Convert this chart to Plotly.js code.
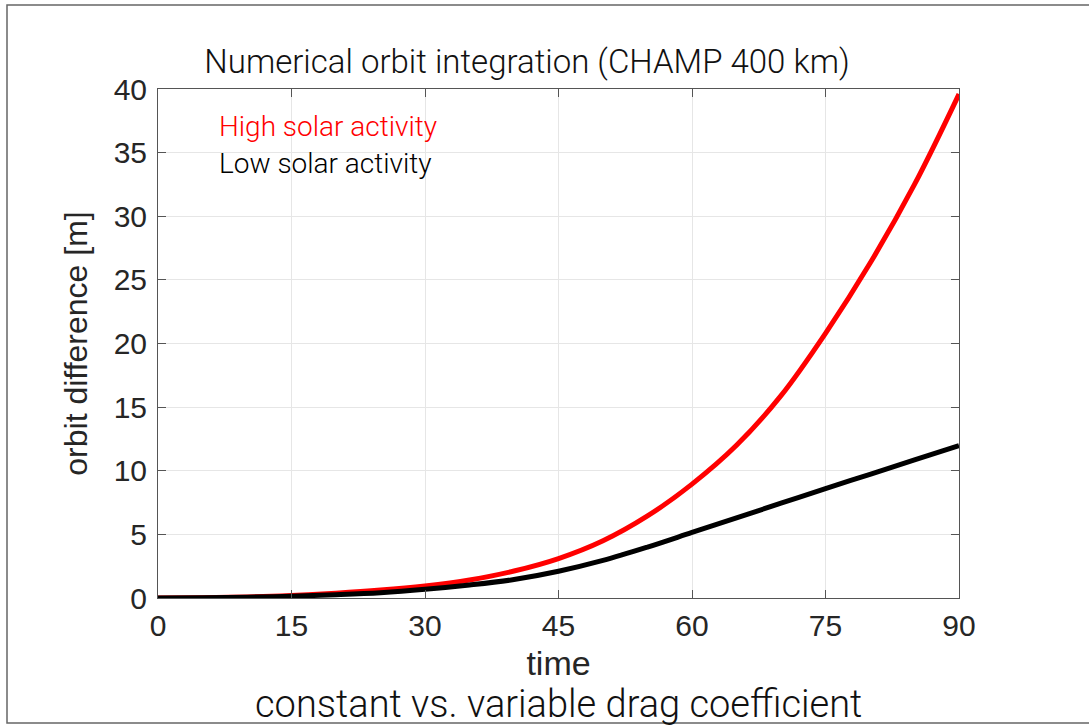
<!DOCTYPE html>
<html>
<head>
<meta charset="utf-8">
<script src="https://cdn.plot.ly/plotly-3.0.1.min.js"></script>
<style>
  html, body { margin: 0; padding: 0; background: #fff; }
  #chart { width: 1089px; height: 725px; }
</style>
</head>
<body>
<div id="chart"></div>
<script>
// Time (x) values
const time = [0, 5, 10, 15, 20, 25, 30, 35, 40, 45, 50, 55, 60, 65, 70, 75, 80, 85, 90];
// High solar activity orbit difference [m]
const highSolar = [0, 0.02, 0.08, 0.2, 0.38, 0.62, 0.95, 1.42, 2.12, 3.1, 4.5, 6.45, 8.95, 12.0, 15.9, 20.8, 26.3, 32.5, 39.6];
// Low solar activity orbit difference [m]
const lowSolar = [0, 0.02, 0.06, 0.14, 0.26, 0.42, 0.68, 1.02, 1.45, 2.1, 2.95, 4.0, 5.15, 6.3, 7.45, 8.6, 9.72, 10.85, 11.97];
const xTicks = [0, 15, 30, 45, 60, 75, 90];
const yTicks = [0, 5, 10, 15, 20, 25, 30, 35, 40];

const titleText = "Numerical orbit integration (CHAMP 400 km)";
const bottomText = "constant vs. variable drag coefficient";
const legendHigh = "High solar activity";
const legendLow = "Low solar activity";

const W = 1089, H = 725;
const L = 158, R = 959, T = 89, B = 598;
const pw = R - L, ph = B - T;

const traces = [
  { x: time, y: highSolar, mode: 'lines', line: { color: '#ff0000', width: 5, shape: 'spline', smoothing: 1 }, name: legendHigh, showlegend: false },
  { x: time, y: lowSolar, mode: 'lines', line: { color: '#000000', width: 5, shape: 'spline', smoothing: 1 }, name: legendLow, showlegend: false }
];

const tickFont = { family: 'Liberation Sans, Arial, sans-serif', size: 30, color: '#262626' };
const axisCommon = {
  showline: true, linecolor: '#555555', linewidth: 1, mirror: 'ticks',
  ticks: 'inside', ticklen: 8, tickcolor: '#555555', tickwidth: 1,
  showgrid: true, gridcolor: '#e6e6e6', gridwidth: 1,
  zeroline: false, tickfont: tickFont, fixedrange: true
};

const layout = {
  width: W, height: H,
  margin: { l: L, r: W - R, t: T, b: H - B, pad: 0 },
  paper_bgcolor: '#ffffff', plot_bgcolor: '#ffffff',
  showlegend: false,
  title: {
    text: titleText,
    font: { family: 'Roboto, sans-serif', size: 33, weight: 300, color: '#111111' },
    x: 527 / W, xref: 'container', xanchor: 'center',
    y: 1 - 61 / H, yref: 'container', yanchor: 'middle'
  },
  xaxis: Object.assign({}, axisCommon, {
    range: [0, 90], tickvals: xTicks, ticktext: xTicks.map(String),
    ticklabelstandoff: 1,
    title: { text: 'time', font: { family: 'Liberation Sans, Arial, sans-serif', size: 34, color: '#262626' }, standoff: 10 }
  }),
  yaxis: Object.assign({}, axisCommon, {
    range: [0, 40], tickvals: yTicks, ticktext: yTicks.map(String),
    ticklabelstandoff: 4,
    title: { text: 'orbit difference [m]', font: { family: 'Liberation Sans, Arial, sans-serif', size: 32, color: '#262626' }, standoff: 16 }
  }),
  annotations: [
    { text: legendHigh, xref: 'paper', yref: 'paper', x: (217 - L) / pw, y: (B - 126) / ph, xanchor: 'left', yanchor: 'middle', showarrow: false,
      font: { family: 'Roboto, sans-serif', size: 28, weight: 300, color: '#ff0000' } },
    { text: legendLow, xref: 'paper', yref: 'paper', x: (217 - L) / pw, y: (B - 163) / ph, xanchor: 'left', yanchor: 'middle', showarrow: false,
      font: { family: 'Roboto, sans-serif', size: 28, weight: 300, color: '#000000' } },
    { text: bottomText, xref: 'paper', yref: 'paper', x: (558 - L) / pw, y: (B - 704) / ph, xanchor: 'center', yanchor: 'middle', showarrow: false,
      font: { family: 'Roboto, sans-serif', size: 38, weight: 300, color: '#111111' } }
  ],
  shapes: [
    { type: 'rect', xref: 'paper', yref: 'paper', layer: 'above',
      x0: (7 - L) / pw, x1: (1100 - L) / pw, y0: (B - 723) / ph, y1: (B - 5) / ph,
      line: { color: '#666666', width: 1.5 }, fillcolor: 'rgba(0,0,0,0)' }
  ]
};

Plotly.newPlot('chart', traces, layout, { staticPlot: true, displayModeBar: false });
</script>
</body>
</html>
